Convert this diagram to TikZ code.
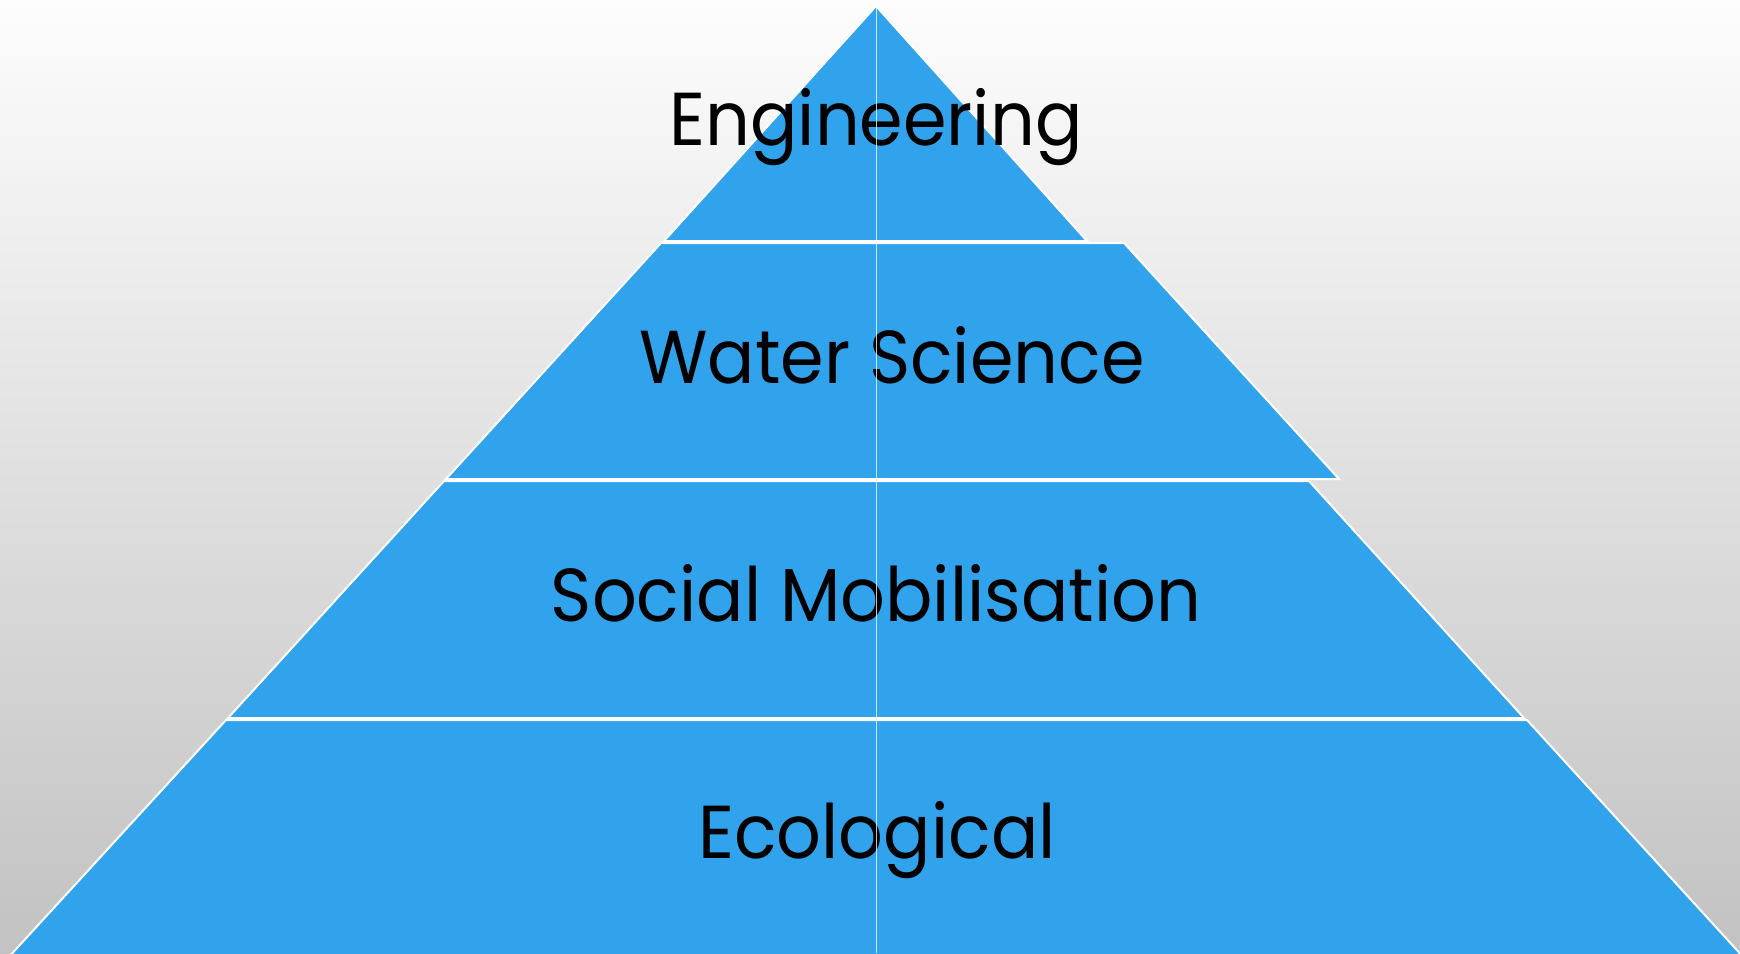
\documentclass[tikz,border=0pt]{standalone}
\usepackage{fontspec}
\setmainfont{Poppins}

\definecolor{tierBlue}{RGB}{48,163,236}
\definecolor{bgTop}{RGB}{253,253,253}
\definecolor{bgMid}{RGB}{238,238,238}
\definecolor{bgBottom}{RGB}{194,194,194}

\providecommand*{\xMin}{}
\providecommand*{\xMax}{}
\providecommand*{\yMin}{}
\providecommand*{\yMax}{}
\renewcommand*{\xMin}{0}
\renewcommand*{\xMax}{1740}
\renewcommand*{\yMin}{0}
\renewcommand*{\yMax}{953}

% labels are set a little narrower than the font gives them
\newcommand*{\tiertext}[1]{\scalebox{0.935}[1]{#1}}

\begin{document}
\begin{tikzpicture}[x=0.5pt,y=-0.5pt,
    tier/.style={fill=tierBlue,draw=white,line width=1pt,line join=miter},
    tierlabel/.style={font=\fontsize{37.5}{44}\selectfont,text=black,inner sep=0pt,anchor=base}]
  \clip (\xMin,\yMin) rectangle (\xMax,\yMax);
  \shade [top color=bgTop,middle color=bgMid,bottom color=bgBottom]
    (\xMin,\yMin) rectangle (\xMax,\yMax);

  % the four tiers, top to bottom
  \draw [tier] (876,6) -- (1087,241) -- (664,241) -- cycle;
  \draw [tier] (661,243) -- (1124,243) -- (1339,479) -- (446,479) -- cycle;
  \draw [tier] (444,481) -- (1309,481) -- (1524,718) -- (228,718) -- cycle;
  \draw [tier] (226,720) -- (1527,720) -- (1745,959) -- (7,959) -- cycle;

  \node (engineering) [tierlabel] at (876,145) {\tiertext{Engineering}};
  \node (water) [tierlabel] at (892,383) {\tiertext{Water Science}};
  \node (social) [tierlabel] at (876,621) {\tiertext{Social Mobilisation}};
  \node (ecological) [tierlabel] at (877,858) {\tiertext{Ecological}};

  % thin centre line over everything
  \coordinate (apex) at (876,6);
  \coordinate (base) at (876,\yMax);
  \draw [white,opacity=0.75,line width=0.5pt] (apex) -- (base);
\end{tikzpicture}
\end{document}
